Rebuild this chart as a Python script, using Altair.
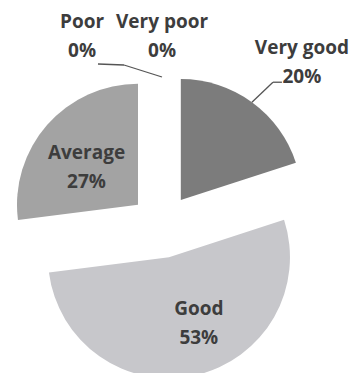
import altair as alt
import pandas as pd

# ---- data ----
categories = ["Very good", "Good", "Average", "Poor", "Very poor"]
values = [20, 53, 27, 0, 0]
slice_colors = ["#7c7c7c", "#c7c7cb", "#a3a3a3", "#b0b0b0", "#909090"]

df = pd.DataFrame({"category": categories, "value": values,
                   "order": list(range(len(categories)))})

# ---- layout / style ----
W, H = 346, 365
CX, CY = 154, 218      # pie centre (before explosion)
EXPLODE = 32           # explosion distance
R = 121                # radius
FONT = "Open Sans"
FS = 19
TXT = "#3d3d3d"
LINE = "#555555"

base = (
    alt.Chart(df)
    .transform_window(cum="sum(value)", sort=[alt.SortField("order")], frame=[None, 0])
    .transform_joinaggregate(total="sum(value)")
    .transform_calculate(
        a0="2*PI*(datum.cum - datum.value)/datum.total",
        a1="2*PI*datum.cum/datum.total",
    )
    .transform_calculate(mid="(datum.a0 + datum.a1)/2")
    .transform_calculate(
        cx=f"{CX} + {EXPLODE}*sin(datum.mid)",
        cy=f"{CY} - {EXPLODE}*cos(datum.mid)",
    )
    .transform_calculate(
        ex=f"datum.cx + {R}*sin(datum.mid)",
        ey=f"datum.cy - {R}*cos(datum.mid)",
        ix=f"datum.cx + {0.6 * R}*sin(datum.mid)",
        iy=f"datum.cy - {0.6 * R}*cos(datum.mid)",
        label="[datum.category, datum.value + '%']",
    )
)

px = lambda f: alt.X(f"{f}:Q", scale=None, axis=None)
py = lambda f: alt.Y(f"{f}:Q", scale=None, axis=None)

arcs = base.mark_arc(radius=R).encode(
    x=px("cx"),
    y=py("cy"),
    theta=alt.Theta("a0:Q", scale=None),
    theta2="a1:Q",
    color=alt.Color("category:N",
                    scale=alt.Scale(domain=categories, range=slice_colors),
                    legend=None),
)


def text_layer(cat, xf, yf, dx=0, dy=0):
    return (
        base.transform_filter(alt.datum.category == cat)
        .mark_text(font=FONT, fontSize=FS, fontWeight="bold", color=TXT,
                   lineHeight=29, align="center", baseline="middle", dx=dx, dy=dy)
        .encode(x=px(xf), y=py(yf), text="label:N")
    )


def leader(cat, pts):
    layers = []
    for (ax, ay), (bx, by) in zip(pts[:-1], pts[1:]):
        layers.append(
            base.transform_filter(alt.datum.category == cat)
            .transform_calculate(
                lx1=f"datum.ex + {ax}", ly1=f"datum.ey + {ay}",
                lx2=f"datum.ex + {bx}", ly2=f"datum.ey + {by}",
            )
            .mark_rule(color=LINE, strokeWidth=1.3)
            .encode(x=px("lx1"), y=py("ly1"), x2="lx2:Q", y2="ly2:Q")
        )
    return layers


layers = [arcs]
layers.append(text_layer("Good", "ix", "iy", dx=14, dy=-19))
layers.append(text_layer("Average", "ix", "iy", dx=3, dy=-4))
layers.append(text_layer("Very good", "ex", "ey", dx=50, dy=-54))
layers.append(text_layer("Very poor", "ex", "ey", dx=0, dy=-51))
layers.append(text_layer("Poor", "ex", "ey", dx=-80, dy=-51))
layers += leader("Very good", [(0, 0), (21, -20), (30, -20)])
layers += leader("Poor", [(-64, -9), (-38, -8), (0, 4)])

chart = (
    alt.layer(*layers)
    .properties(width=W, height=H, padding=0,
                autosize=alt.AutoSizeParams(type="none"), background="white")
    .configure_view(stroke="transparent")
)

chart.save("out.html", embed_options={"renderer": "svg", "actions": False})
